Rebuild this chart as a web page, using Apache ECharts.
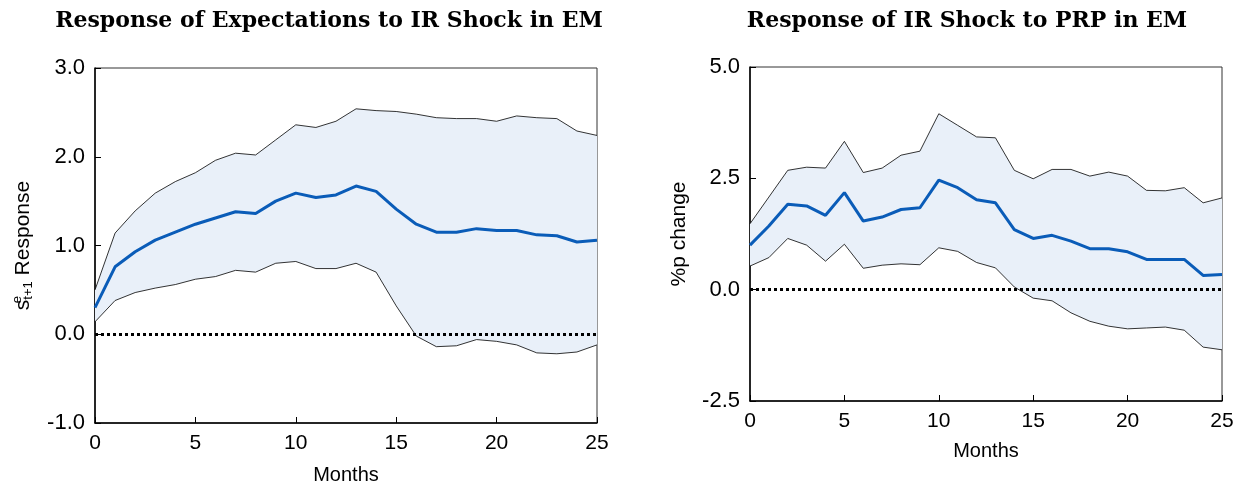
<!DOCTYPE html>
<html>
<head>
<meta charset="utf-8">
<script src="https://cdn.jsdelivr.net/npm/echarts@6/dist/echarts.min.js"></script>
<style>
  html, body { margin: 0; padding: 0; background: #fff; }
  #main { width: 1233px; height: 483px; }
</style>
</head>
<body>
<div id="main"></div>
<script>
// months 0..25
var months = ['0','1','2','3','4','5','6','7','8','9','10','11','12','13','14','15','16','17','18','19','20','21','22','23','24','25'];

// left panel: expectations response to IR shock
var expMean  = [0.30,0.76,0.93,1.06,1.15,1.24,1.31,1.38,1.36,1.50,1.59,1.54,1.57,1.67,1.61,1.41,1.24,1.15,1.15,1.19,1.17,1.17,1.12,1.11,1.04,1.06];
var expUpper = [0.50,1.14,1.39,1.59,1.72,1.82,1.96,2.04,2.02,2.19,2.36,2.33,2.40,2.54,2.52,2.51,2.48,2.44,2.43,2.43,2.40,2.46,2.44,2.43,2.29,2.24];
var expLower = [0.14,0.38,0.47,0.52,0.56,0.62,0.65,0.72,0.70,0.80,0.82,0.74,0.74,0.80,0.70,0.32,-0.02,-0.14,-0.13,-0.06,-0.08,-0.12,-0.21,-0.22,-0.20,-0.12];

// right panel: IR shock response to PRP
var prpMean  = [1.00,1.43,1.92,1.88,1.67,2.18,1.54,1.63,1.80,1.84,2.46,2.29,2.02,1.95,1.35,1.15,1.22,1.09,0.92,0.92,0.85,0.68,0.68,0.68,0.32,0.34];
var prpUpper = [1.48,2.08,2.68,2.75,2.73,3.33,2.63,2.73,3.02,3.11,3.95,3.69,3.43,3.41,2.68,2.49,2.70,2.70,2.55,2.64,2.55,2.23,2.22,2.29,1.95,2.06];
var prpLower = [0.53,0.72,1.15,1.00,0.64,1.02,0.48,0.55,0.58,0.56,0.94,0.86,0.61,0.49,0.06,-0.19,-0.25,-0.52,-0.71,-0.82,-0.88,-0.86,-0.84,-0.91,-1.29,-1.35];

var fontSans = "'Liberation Sans', Arial, sans-serif";
var fontSerif = "'DejaVu Serif', 'Liberation Serif', serif";

function diff(a, b) {
  return a.map(function (v, i) { return +(v - b[i]).toFixed(3); });
}

// band = lower (invisible) + (upper - lower) stacked with fill, then the two bounds and the mean
function bandSeries(idx, mean, upper, lower) {
  var stackName = 'band' + idx;
  return [
    {
      type: 'line', xAxisIndex: idx, yAxisIndex: idx,
      data: lower, stack: stackName, stackStrategy: 'all',
      symbol: 'none', lineStyle: { opacity: 0 }, silent: true
    },
    {
      type: 'line', xAxisIndex: idx, yAxisIndex: idx,
      data: diff(upper, lower), stack: stackName, stackStrategy: 'all',
      symbol: 'none', lineStyle: { opacity: 0 },
      areaStyle: { color: '#e9f0f9', opacity: 1 }, silent: true,
      markLine: {
        symbol: 'none', silent: true, label: { show: false },
        lineStyle: { color: '#000', type: [3, 3], width: 3 },
        data: [{ yAxis: 0 }]
      }
    },
    {
      type: 'line', xAxisIndex: idx, yAxisIndex: idx,
      data: upper, symbol: 'none',
      lineStyle: { color: '#000', width: 0.8 }
    },
    {
      type: 'line', xAxisIndex: idx, yAxisIndex: idx,
      data: lower, symbol: 'none',
      lineStyle: { color: '#000', width: 0.8 }
    },
    {
      type: 'line', xAxisIndex: idx, yAxisIndex: idx,
      data: mean, symbol: 'none', z: 5,
      lineStyle: { color: '#0a5cb8', width: 3 }
    }
  ];
}

function xAxisFor(idx, gap) {
  return {
    type: 'category', gridIndex: idx, data: months, boundaryGap: false,
    name: 'Months', nameLocation: 'middle', nameGap: gap,
    nameTextStyle: { fontFamily: fontSans, fontSize: 20, color: '#000' },
    axisLine: { onZero: false, lineStyle: { color: '#000', width: 1.5 } },
    axisTick: { inside: true, length: 6, interval: 4, lineStyle: { color: '#000' } },
    axisLabel: { fontFamily: fontSans, fontSize: 21, color: '#000', margin: 10, interval: 4 },
    splitLine: { show: false }
  };
}

function yAxisFor(idx, min, max, step, name, rich) {
  return {
    type: 'value', gridIndex: idx, min: min, max: max, interval: step,
    name: name, nameLocation: 'middle', nameGap: 60,
    nameTextStyle: { fontFamily: fontSans, fontSize: 21, color: '#000', rich: rich },
    axisLine: { show: true, onZero: false, lineStyle: { color: '#000', width: 1.5 } },
    axisTick: { show: true, inside: true, length: 6, lineStyle: { color: '#000' } },
    axisLabel: { fontFamily: fontSans, fontSize: 22, color: '#000', margin: 10,
      formatter: function (v) { return v.toFixed(1); } },
    splitLine: { show: false }
  };
}

var titleStyle = { fontFamily: fontSerif, fontWeight: 'bold', fontSize: 22, fill: '#000',
  textAlign: 'center', textVerticalAlign: 'middle' };

var chart = echarts.init(document.getElementById('main'), null, { renderer: 'canvas' });
chart.setOption({
  animation: false,
  graphic: [
    { type: 'text', x: 329, y: 21, style: Object.assign({ text: 'Response of Expectations to IR Shock in EM' }, titleStyle) },
    { type: 'text', x: 967, y: 21, style: Object.assign({ text: 'Response of IR Shock to PRP in EM' }, titleStyle) }
  ],
  grid: [
    { left: 95, top: 68, width: 502, height: 355, outerBoundsMode: 'none', containLabel: false,
      show: true, borderColor: '#333', borderWidth: 1 },
    { left: 750, top: 67, width: 472, height: 334, outerBoundsMode: 'none', containLabel: false,
      show: true, borderColor: '#333', borderWidth: 1 }
  ],
  xAxis: [xAxisFor(0, 42), xAxisFor(1, 40)],
  yAxis: [
    yAxisFor(0, -1, 3, 1, '{b|s}{sup|e}{sub|t+1}{b| Response}', {
      b: { fontFamily: fontSans, fontSize: 21, color: '#000' },
      sup: { fontFamily: fontSans, fontSize: 13, color: '#000', width: 0, padding: [0, 0, 11, 0] },
      sub: { fontFamily: fontSans, fontSize: 13, color: '#000', padding: [11, 0, 0, 0] }
    }),
    yAxisFor(1, -2.5, 5, 2.5, '%p change')
  ],
  series: bandSeries(0, expMean, expUpper, expLower).concat(bandSeries(1, prpMean, prpUpper, prpLower))
});
</script>
</body>
</html>
